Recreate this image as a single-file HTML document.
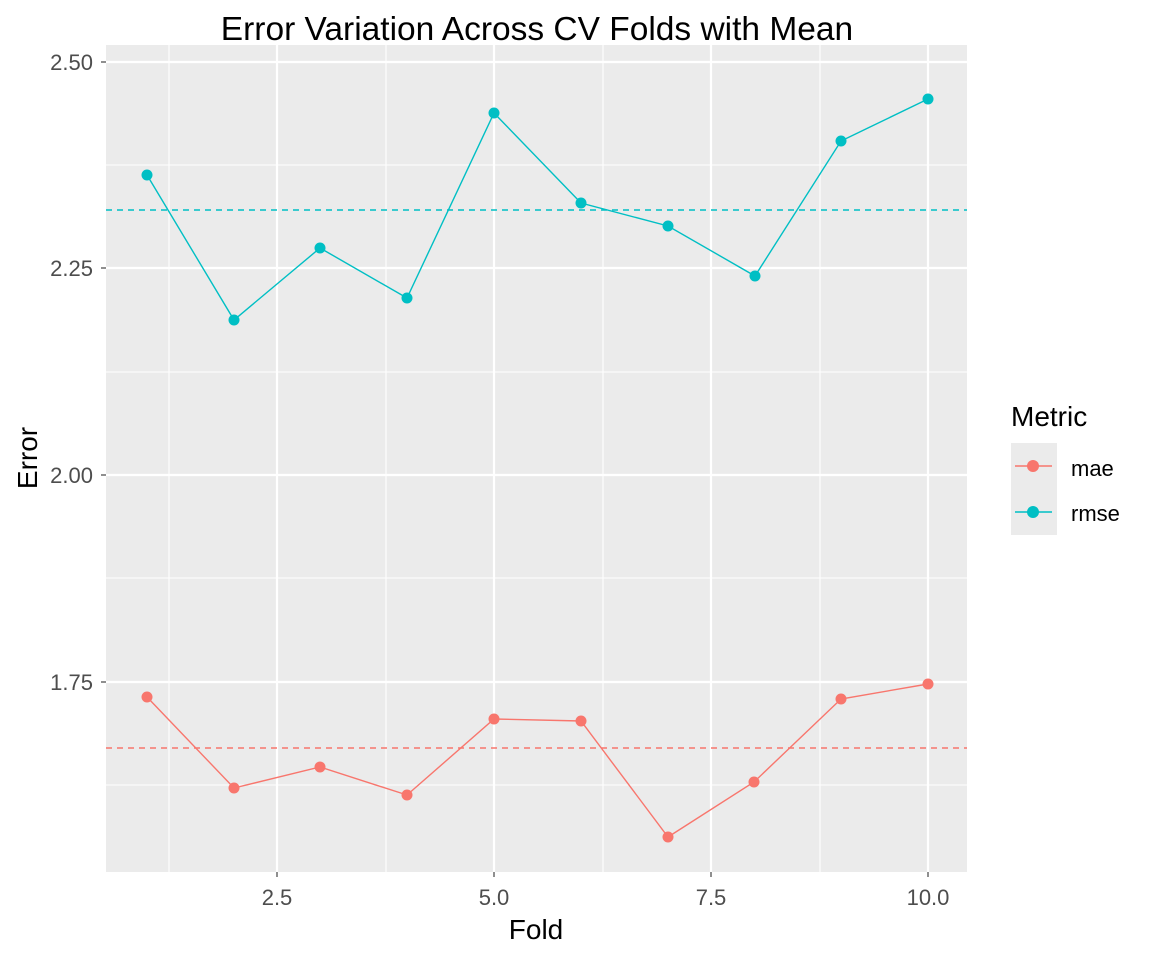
<!DOCTYPE html>
<html><head><meta charset="utf-8"><style>
html,body{margin:0;padding:0;background:#fff;}
svg{display:block;font-family:"Liberation Sans",Arial,sans-serif;}
</style></head><body>
<svg width="1152" height="960" viewBox="0 0 1152 960" xmlns="http://www.w3.org/2000/svg">
<rect width="1152" height="960" fill="#fff"/>
<rect x="106" y="45" width="861" height="827" fill="#EBEBEB"/>
<g stroke="#fff" stroke-width="1.1">
<line x1="106" x2="967" y1="165" y2="165"/><line x1="106" x2="967" y1="372" y2="372"/>
<line x1="106" x2="967" y1="578" y2="578"/><line x1="106" x2="967" y1="785" y2="785"/>
<line y1="45" y2="872" x1="169" x2="169"/><line y1="45" y2="872" x1="386" x2="386"/>
<line y1="45" y2="872" x1="603" x2="603"/><line y1="45" y2="872" x1="820" x2="820"/>
</g>
<g stroke="#fff" stroke-width="2.2">
<line x1="106" x2="967" y1="62" y2="62"/><line x1="106" x2="967" y1="268" y2="268"/>
<line x1="106" x2="967" y1="475" y2="475"/><line x1="106" x2="967" y1="682" y2="682"/>
<line y1="45" y2="872" x1="277" x2="277"/><line y1="45" y2="872" x1="494" x2="494"/>
<line y1="45" y2="872" x1="711" x2="711"/><line y1="45" y2="872" x1="928" x2="928"/>
</g>
<line x1="106" x2="967" y1="210" y2="210" stroke="#00BFC4" stroke-width="1.4" stroke-dasharray="6,5"/>
<line x1="106" x2="967" y1="748" y2="748" stroke="#F8766D" stroke-width="1.4" stroke-dasharray="6,5"/>
<polyline fill="none" stroke="#00BFC4" stroke-width="1.4" points="147,175 234,320 320,248 407,298 494,113 581,203 668,226 755,276 841,141 928,99"/>
<polyline fill="none" stroke="#F8766D" stroke-width="1.4" points="147,697 234,788 320,767 407,795 494,719 581,721 668,837 754,782 841,699 928,684"/>
<g fill="#00BFC4">
<circle cx="147" cy="175" r="5.5"/><circle cx="234" cy="320" r="5.5"/><circle cx="320" cy="248" r="5.5"/><circle cx="407" cy="298" r="5.5"/><circle cx="494" cy="113" r="5.5"/><circle cx="581" cy="203" r="5.5"/><circle cx="668" cy="226" r="5.5"/><circle cx="755" cy="276" r="5.5"/><circle cx="841" cy="141" r="5.5"/><circle cx="928" cy="99" r="5.5"/>
</g>
<g fill="#F8766D">
<circle cx="147" cy="697" r="5.5"/><circle cx="234" cy="788" r="5.5"/><circle cx="320" cy="767" r="5.5"/><circle cx="407" cy="795" r="5.5"/><circle cx="494" cy="719" r="5.5"/><circle cx="581" cy="721" r="5.5"/><circle cx="668" cy="837" r="5.5"/><circle cx="754" cy="782" r="5.5"/><circle cx="841" cy="699" r="5.5"/><circle cx="928" cy="684" r="5.5"/>
</g>
<g stroke="#333" stroke-width="1.1">
<line x1="101" x2="106" y1="62" y2="62"/><line x1="101" x2="106" y1="268" y2="268"/>
<line x1="101" x2="106" y1="475" y2="475"/><line x1="101" x2="106" y1="682" y2="682"/>
<line y1="872" y2="877" x1="277" x2="277"/><line y1="872" y2="877" x1="494" x2="494"/>
<line y1="872" y2="877" x1="711" x2="711"/><line y1="872" y2="877" x1="928" x2="928"/>
</g>
<g fill="#4D4D4D" font-size="22" text-anchor="end">
<text x="93" y="70">2.50</text><text x="93" y="276">2.25</text>
<text x="93" y="483">2.00</text><text x="93" y="690">1.75</text>
</g>
<g fill="#4D4D4D" font-size="22" text-anchor="middle">
<text x="277" y="905">2.5</text><text x="494" y="905">5.0</text>
<text x="711" y="905">7.5</text><text x="928" y="905">10.0</text>
</g>
<text x="536" y="939" font-size="28" text-anchor="middle" fill="#000">Fold</text>
<text transform="translate(37,458) rotate(-90)" font-size="28" text-anchor="middle" fill="#000">Error</text>
<text x="537" y="40" font-size="33.5" text-anchor="middle" fill="#000">Error Variation Across CV Folds with Mean</text>
<text x="1011" y="426" font-size="28" fill="#000">Metric</text>
<rect x="1011" y="443" width="46" height="92" fill="#EBEBEB"/>
<line x1="1015" x2="1052" y1="466" y2="466" stroke="#F8766D" stroke-width="1.4"/>
<circle cx="1033" cy="466" r="6" fill="#F8766D"/>
<line x1="1015" x2="1052" y1="512" y2="512" stroke="#00BFC4" stroke-width="1.4"/>
<circle cx="1033" cy="512" r="6" fill="#00BFC4"/>
<text x="1071" y="476" font-size="22" fill="#000">mae</text>
<text x="1071" y="521" font-size="22" fill="#000">rmse</text>
</svg>
</body></html>
